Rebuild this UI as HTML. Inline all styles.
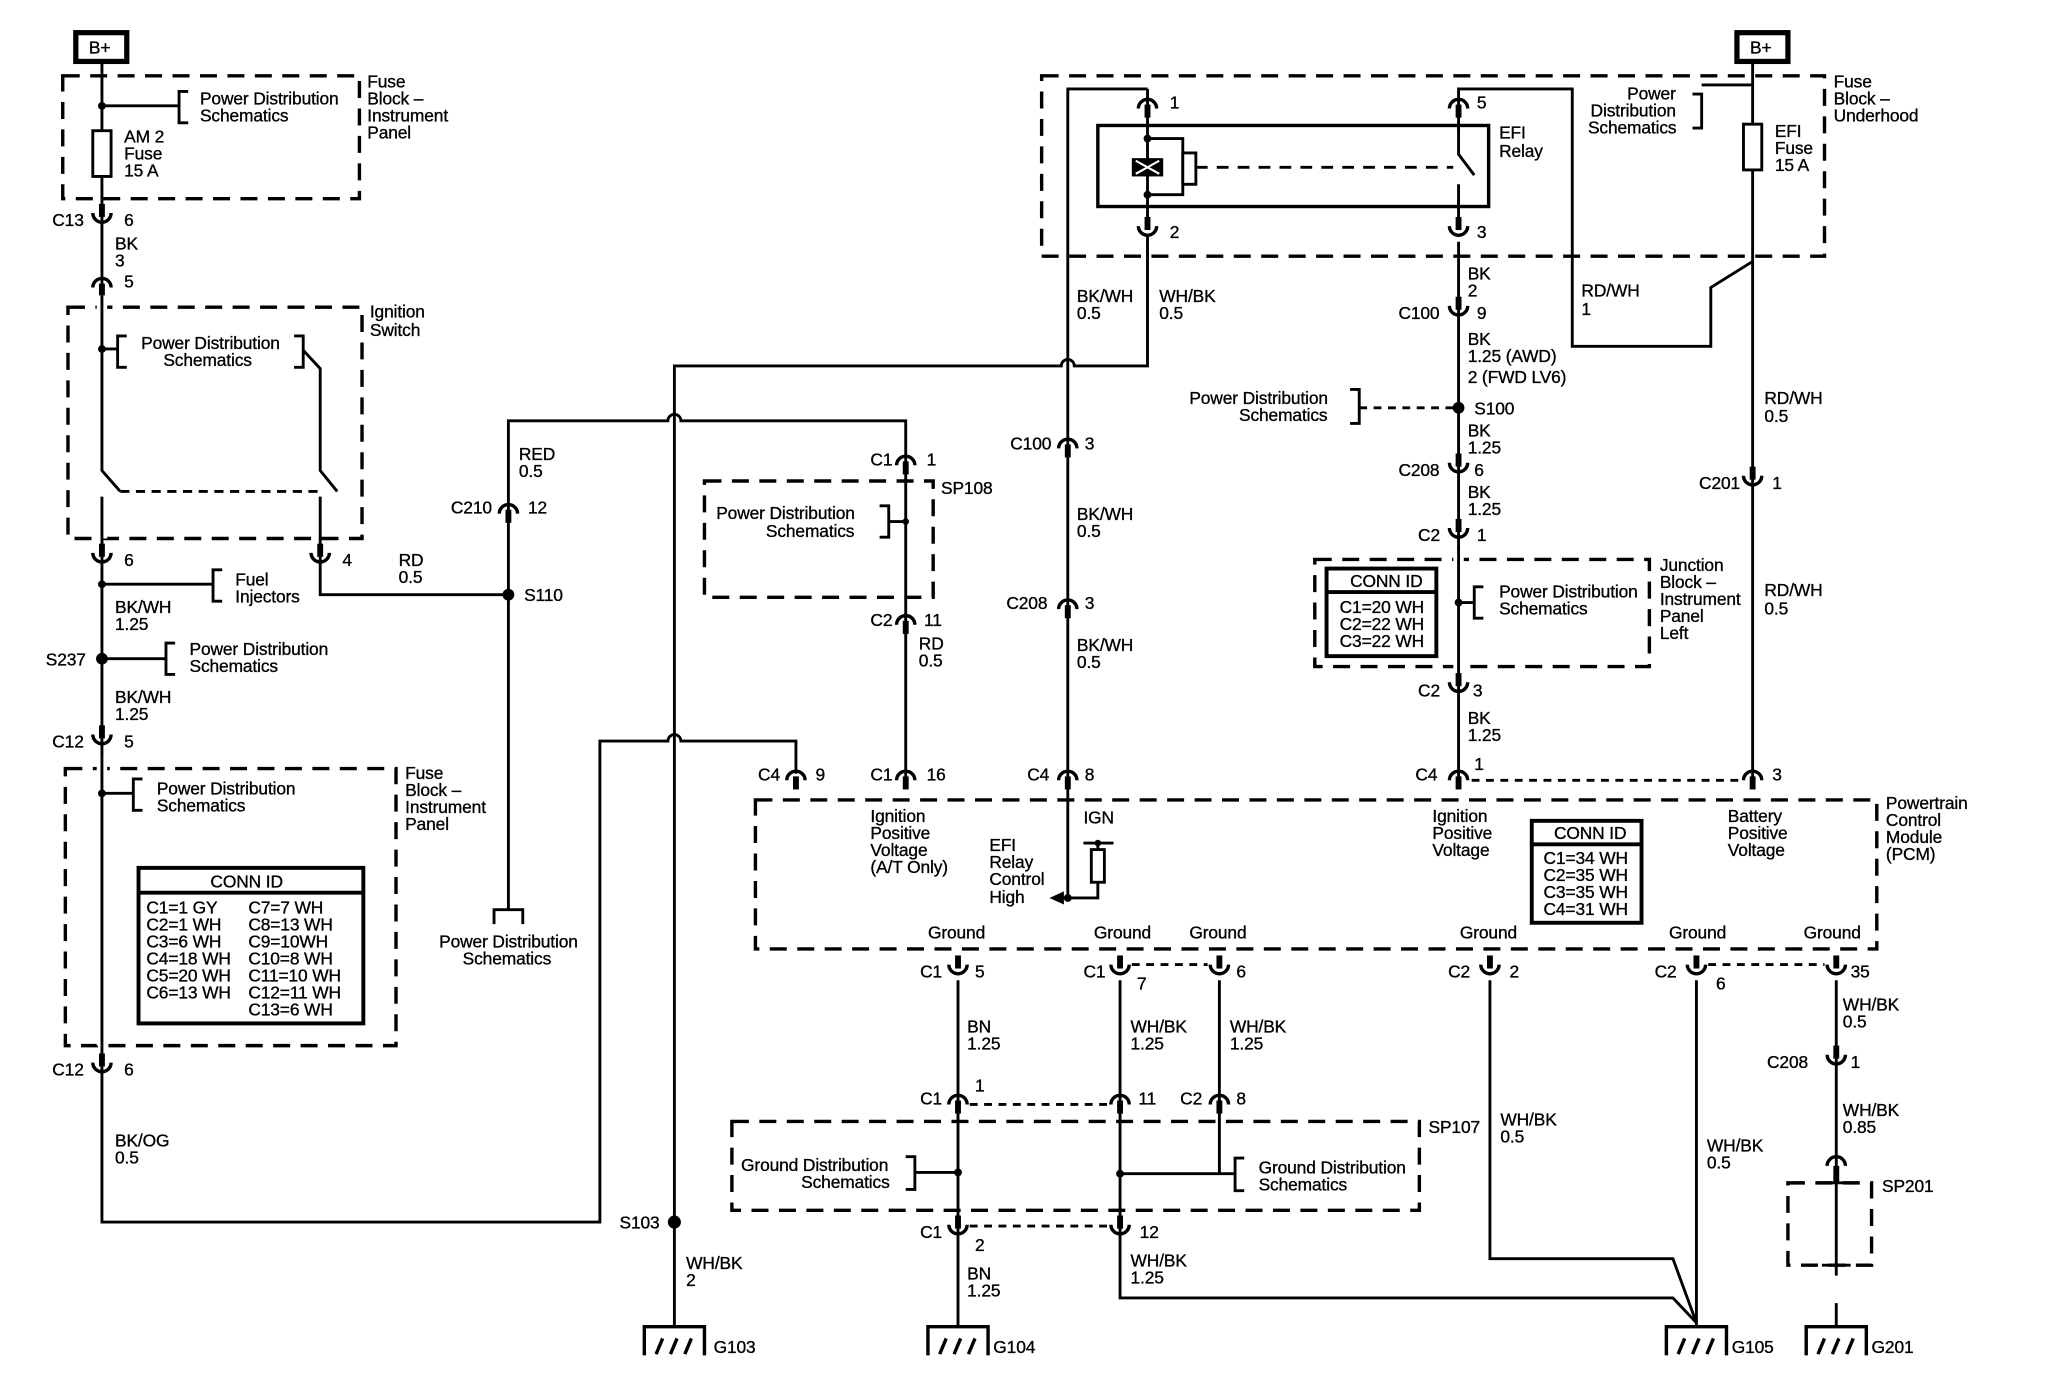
<!DOCTYPE html>
<html><head><meta charset="utf-8"><style>
html,body{margin:0;padding:0;background:#fff}
svg{display:block}
text{font-family:"Liberation Sans",Arial,sans-serif;font-size:13.3px;fill:#000;stroke:#000;stroke-width:0.25px;letter-spacing:-0.1px}
.w{stroke:#000;stroke-width:2.2;fill:none}
.d{stroke:#000;stroke-width:2.6;fill:none;stroke-dasharray:13 8}
.dt{stroke:#000;stroke-width:2.2;fill:none;stroke-dasharray:6 5}
.b{stroke:#000;stroke-width:2.2;fill:none}
</style></head><body>
<svg width="2048" height="1392" viewBox="0 0 1567 1065" preserveAspectRatio="none" xmlns="http://www.w3.org/2000/svg">
<defs>
<g id="cd"><line x1="0" y1="-12" x2="0" y2="-2" stroke="#000" stroke-width="4.5"/><path d="M-7,-5 A7,7 0 0 0 7,-5" fill="none" stroke="#000" stroke-width="2.6"/></g>
<g id="cu"><line x1="0" y1="2" x2="0" y2="12" stroke="#000" stroke-width="4.5"/><path d="M-7,5 A7,7 0 0 1 7,5" fill="none" stroke="#000" stroke-width="2.6"/></g>
<g id="gnd"><path d="M-23,22 V0 H23 V22" fill="none" stroke="#000" stroke-width="2.6"/><path d="M-14,21 L-9,9 M-3,21 L2,9 M8,21 L13,9" stroke="#000" stroke-width="2.6"/></g>
</defs>

<!-- LEFT COLUMN -->
<rect x="58" y="25" width="39" height="22" fill="none" stroke="#000" stroke-width="4"/>
<text x="68" y="41">B+</text>
<rect x="48" y="58" width="227" height="94" class="d"/>
<text x="281" y="67">Fuse</text><text x="281" y="80">Block –</text><text x="281" y="93">Instrument</text><text x="281" y="106">Panel</text>
<path class="w" d="M78,47 V935 H459 V567 H511 A5,5 0 0 1 521,567 H609 V592"/>
<circle cx="78" cy="81" r="3"/>
<path class="w" d="M78,81 H137 M144,70 H137 V94 H144"/>
<text x="153" y="80">Power Distribution</text><text x="153" y="93">Schematics</text>
<rect x="71" y="100" width="14" height="35" fill="#fff" stroke="#000" stroke-width="2.2"/>
<text x="95" y="109">AM 2</text><text x="95" y="122">Fuse</text><text x="95" y="135">15 A</text>
<use href="#cd" x="78" y="168"/><text x="40" y="173">C13</text><text x="95" y="173">6</text>
<text x="88" y="191">BK</text><text x="88" y="204">3</text>
<use href="#cu" x="78" y="215"/><text x="95" y="220">5</text>
<rect x="52" y="235" width="225" height="177" class="d"/>
<text x="283" y="243">Ignition</text><text x="283" y="257">Switch</text>
<rect x="74" y="226" width="8" height="186" fill="#fff"/>
<path class="w" d="M78,226 V360 L92,376"/>
<path class="dt" d="M92,376 H245" style="stroke-dasharray:7 5"/>
<circle cx="78" cy="267" r="3"/>
<path class="w" d="M78,267 H90 M97,257 H90 V281 H97"/>
<text x="108" y="267">Power Distribution</text><text x="125" y="280">Schematics</text>
<path class="w" d="M225,257 H232 V281 H225 M232,268 L245,282 V360 L258,376"/>
<path class="w" d="M78,380 V430 M245,380 V455 H389"/>
<use href="#cd" x="78" y="428"/><text x="95" y="433">6</text>
<use href="#cd" x="245" y="428"/><text x="262" y="433">4</text>
<text x="305" y="433">RD</text><text x="305" y="446">0.5</text>
<circle cx="78" cy="447" r="3"/>
<path class="w" d="M78,447 H163 M170,436 H163 V460 H170"/>
<text x="180" y="448">Fuel</text><text x="180" y="461">Injectors</text>
<text x="88" y="469">BK/WH</text><text x="88" y="482">1.25</text>
<circle cx="78" cy="504" r="4.5"/><text x="35" y="509">S237</text>
<path class="w" d="M78,504 H127 M134,492 H127 V516 H134"/>
<text x="145" y="501">Power Distribution</text><text x="145" y="514">Schematics</text>
<text x="88" y="538">BK/WH</text><text x="88" y="551">1.25</text>
<use href="#cd" x="78" y="567"/><text x="40" y="572">C12</text><text x="95" y="572">5</text>
<rect x="50" y="588" width="253" height="212" class="d"/>
<text x="310" y="596">Fuse</text><text x="310" y="609">Block –</text><text x="310" y="622">Instrument</text><text x="310" y="635">Panel</text>
<rect x="74" y="580" width="8" height="220" fill="#fff"/>
<line x1="78" y1="580" x2="78" y2="800" class="w"/>
<circle cx="78" cy="607" r="3"/>
<path class="w" d="M78,607 H102 M109,596 H102 V620 H109"/>
<text x="120" y="608">Power Distribution</text><text x="120" y="621">Schematics</text>
<rect x="106" y="664" width="172" height="119" fill="none" stroke="#000" stroke-width="3"/>
<line x1="106" y1="683" x2="278" y2="683" stroke="#000" stroke-width="3"/>
<text x="161" y="679">CONN ID</text>
<text x="112" y="699">C1=1 GY</text><text x="112" y="712">C2=1 WH</text><text x="112" y="725">C3=6 WH</text><text x="112" y="738">C4=18 WH</text><text x="112" y="751">C5=20 WH</text><text x="112" y="764">C6=13 WH</text>
<text x="190" y="699">C7=7 WH</text><text x="190" y="712">C8=13 WH</text><text x="190" y="725">C9=10WH</text><text x="190" y="738">C10=8 WH</text><text x="190" y="751">C11=10 WH</text><text x="190" y="764">C12=11 WH</text><text x="190" y="777">C13=6 WH</text>
<use href="#cd" x="78" y="818"/><text x="40" y="823">C12</text><text x="95" y="823">6</text>
<text x="88" y="877">BK/OG</text><text x="88" y="890">0.5</text>

<!-- S103 vertical & top -->
<path class="w" d="M516,1015 V280 H812 A5,5 0 0 1 822,280 H878 V180"/>
<circle cx="516" cy="935" r="5"/><text x="474" y="940">S103</text>
<text x="525" y="971">WH/BK</text><text x="525" y="984">2</text>
<use href="#gnd" x="516" y="1015"/><text x="546" y="1035">G103</text>

<!-- S110 -->
<path class="w" d="M389,696 V322 H511 A5,5 0 0 1 521,322 H693 V600"/>
<use href="#cu" x="389" y="388"/><text x="345" y="393">C210</text><text x="404" y="393">12</text>
<text x="397" y="352">RED</text><text x="397" y="365">0.5</text>
<circle cx="389" cy="455" r="4.5"/><text x="401" y="460">S110</text>
<path class="w" d="M378,707 V696 H400 V707"/>
<text x="336" y="725">Power Distribution</text><text x="354" y="738">Schematics</text>

<!-- SP108 -->
<use href="#cu" x="693" y="351"/><text x="666" y="356">C1</text><text x="709" y="356">1</text>
<rect x="539" y="368" width="175" height="89" class="d"/>
<text x="720" y="378">SP108</text>
<path class="w" d="M673,387 H680 V411 H673 M680,399 H693"/><circle cx="693" cy="399" r="2.5"/>
<text x="548" y="397">Power Distribution</text><text x="586" y="411">Schematics</text>
<use href="#cu" x="693" y="473"/><text x="666" y="479">C2</text><text x="707" y="479">11</text>
<text x="703" y="497">RD</text><text x="703" y="510">0.5</text>
<use href="#cu" x="693" y="592"/><text x="666" y="597">C1</text><text x="709" y="597">16</text>
<use href="#cu" x="609" y="592"/><text x="580" y="597">C4</text><text x="624" y="597">9</text>

<!-- TOP RIGHT -->
<rect x="1329" y="25" width="39" height="22" fill="none" stroke="#000" stroke-width="4"/>
<text x="1339" y="41">B+</text>
<rect x="797" y="58" width="599" height="138" class="d"/>
<text x="1403" y="67">Fuse</text><text x="1403" y="80">Block –</text><text x="1403" y="93">Underhood</text>
<path class="w" d="M1341,47 V600"/>
<path class="w" d="M1341,65 H1302 M1295,72 H1302 V98 H1295"/>
<text x="1245" y="76">Power</text><text x="1217" y="89">Distribution</text><text x="1215" y="102">Schematics</text>
<rect x="1334" y="95" width="14" height="35" fill="#fff" stroke="#000" stroke-width="2.2"/>
<text x="1358" y="105">EFI</text><text x="1358" y="118">Fuse</text><text x="1358" y="131">15 A</text>
<path class="w" d="M1341,200 L1309,220 V265 H1203 V68 H1116 V168"/>
<text x="1210" y="227">RD/WH</text><text x="1210" y="241">1</text>
<!-- relay -->
<rect x="840" y="96" width="299" height="62" fill="none" stroke="#000" stroke-width="2.6"/>
<path class="w" d="M878,68 H817 V600"/>
<line x1="878" y1="68" x2="878" y2="168" class="w"/>
<use href="#cu" x="878" y="78"/><text x="895" y="83">1</text>
<use href="#cd" x="878" y="178"/><text x="895" y="182">2</text>
<use href="#cu" x="1116" y="78"/><text x="1130" y="83">5</text>
<use href="#cd" x="1116" y="178"/><text x="1130" y="182">3</text>
<circle cx="878" cy="106" r="3"/><circle cx="878" cy="149" r="3"/>
<path class="w" d="M878,106 H905 V149 H878"/>
<rect x="866" y="121" width="24" height="14" fill="#000"/>
<path d="M869,123 L887,133 M887,123 L869,133" stroke="#fff" stroke-width="1.6"/>
<rect x="905" y="117" width="10" height="24" fill="#fff" stroke="#000" stroke-width="2.2"/>
<path class="dt" d="M915,128 H1112" style="stroke-dasharray:9 7"/>
<rect x="1112" y="100" width="8" height="54" fill="#fff"/>
<path class="w" d="M1116,96 V118 L1128,134 M1116,141 V160"/>
<text x="1147" y="106">EFI</text><text x="1147" y="120">Relay</text>
<text x="824" y="231">BK/WH</text><text x="824" y="244">0.5</text>
<text x="887" y="231">WH/BK</text><text x="887" y="244">0.5</text>
<use href="#cu" x="817" y="338"/><text x="773" y="344">C100</text><text x="830" y="344">3</text>
<text x="824" y="398">BK/WH</text><text x="824" y="411">0.5</text>
<use href="#cu" x="817" y="461"/><text x="770" y="466">C208</text><text x="830" y="466">3</text>
<text x="824" y="498">BK/WH</text><text x="824" y="511">0.5</text>
<use href="#cu" x="817" y="592"/><text x="786" y="597">C4</text><text x="830" y="597">8</text>

<!-- BK column 1116 -->
<line x1="1116" y1="185" x2="1116" y2="600" class="w"/>
<text x="1123" y="214">BK</text><text x="1123" y="227">2</text>
<use href="#cd" x="1116" y="239"/><text x="1070" y="244">C100</text><text x="1130" y="244">9</text>
<text x="1123" y="264">BK</text><text x="1123" y="277">1.25 (AWD)</text><text x="1123" y="293">2 (FWD LV6)</text>
<circle cx="1116" cy="312" r="4.5"/><text x="1128" y="317">S100</text>
<path class="dt" d="M1112,312 H1040"/><path class="w" d="M1033,298 H1040 V324 H1033"/>
<text x="910" y="309">Power Distribution</text><text x="948" y="322">Schematics</text>
<text x="1123" y="334">BK</text><text x="1123" y="347">1.25</text>
<use href="#cd" x="1116" y="359"/><text x="1070" y="364">C208</text><text x="1128" y="364">6</text>
<text x="1123" y="381">BK</text><text x="1123" y="394">1.25</text>
<use href="#cd" x="1116" y="409"/><text x="1085" y="414">C2</text><text x="1130" y="414">1</text>
<rect x="1006" y="428" width="256" height="82" class="d"/>
<rect x="1112" y="420" width="8" height="96" fill="#fff"/><line x1="1116" y1="418" x2="1116" y2="520" class="w"/>
<rect x="1015" y="435" width="84" height="67" fill="none" stroke="#000" stroke-width="3"/>
<line x1="1015" y1="453" x2="1099" y2="453" stroke="#000" stroke-width="3"/>
<text x="1033" y="449">CONN ID</text>
<text x="1025" y="469">C1=20 WH</text><text x="1025" y="482">C2=22 WH</text><text x="1025" y="495">C3=22 WH</text>
<circle cx="1116" cy="461" r="3"/>
<path class="w" d="M1116,461 H1128 M1135,449 H1128 V473 H1135"/>
<text x="1147" y="457">Power Distribution</text><text x="1147" y="470">Schematics</text>
<text x="1270" y="437">Junction</text><text x="1270" y="450">Block –</text><text x="1270" y="463">Instrument</text><text x="1270" y="476">Panel</text><text x="1270" y="489">Left</text>
<use href="#cd" x="1116" y="527"/><text x="1085" y="533">C2</text><text x="1127" y="533">3</text>
<text x="1123" y="554">BK</text><text x="1123" y="567">1.25</text>
<use href="#cu" x="1116" y="592"/><text x="1083" y="597">C4</text><text x="1128" y="589">1</text>
<path class="dt" d="M1126,597 H1333"/>
<text x="1350" y="309">RD/WH</text><text x="1350" y="323">0.5</text>
<use href="#cd" x="1341" y="369"/><text x="1300" y="374">C201</text><text x="1356" y="374">1</text>
<text x="1350" y="456">RD/WH</text><text x="1350" y="470">0.5</text>
<use href="#cu" x="1341" y="592"/><text x="1356" y="597">3</text>

<!-- PCM -->
<rect x="578" y="612" width="858" height="114" class="d"/>
<text x="1443" y="619">Powertrain</text><text x="1443" y="632">Control</text><text x="1443" y="645">Module</text><text x="1443" y="658">(PCM)</text>
<text x="666" y="629">Ignition</text><text x="666" y="642">Positive</text><text x="666" y="655">Voltage</text><text x="666" y="668">(A/T Only)</text>
<text x="757" y="651">EFI</text><text x="757" y="664">Relay</text><text x="757" y="677">Control</text><text x="757" y="691">High</text>
<text x="829" y="630">IGN</text>
<path class="w" d="M817,600 V687 M829,645 H852 M840,645 V650 M840,675 V687 H810"/>
<circle cx="840" cy="645" r="2.5"/><circle cx="817" cy="687" r="3"/>
<rect x="835" y="650" width="10" height="25" fill="#fff" stroke="#000" stroke-width="2.2"/>
<path d="M803,687 L814,682 L814,692 Z" fill="#000"/>
<text x="1096" y="629">Ignition</text><text x="1096" y="642">Positive</text><text x="1096" y="655">Voltage</text>
<text x="1322" y="629">Battery</text><text x="1322" y="642">Positive</text><text x="1322" y="655">Voltage</text>
<rect x="1172" y="628" width="84" height="78" fill="none" stroke="#000" stroke-width="3"/>
<line x1="1172" y1="646" x2="1256" y2="646" stroke="#000" stroke-width="3"/>
<text x="1189" y="642">CONN ID</text>
<text x="1181" y="661">C1=34 WH</text><text x="1181" y="674">C2=35 WH</text><text x="1181" y="687">C3=35 WH</text><text x="1181" y="700">C4=31 WH</text>
<text x="710" y="718">Ground</text><text x="837" y="718">Ground</text><text x="910" y="718">Ground</text>
<text x="1117" y="718">Ground</text><text x="1277" y="718">Ground</text><text x="1380" y="718">Ground</text>

<!-- bottom grounds -->
<use href="#cd" x="733" y="743"/><text x="704" y="748">C1</text><text x="746" y="748">5</text>
<use href="#cd" x="857" y="743"/><text x="829" y="748">C1</text><text x="870" y="757">7</text>
<use href="#cd" x="933" y="743"/><text x="946" y="748">6</text>
<path class="dt" d="M866,738 H924"/>
<use href="#cd" x="1140" y="743"/><text x="1108" y="748">C2</text><text x="1155" y="748">2</text>
<use href="#cd" x="1298" y="743"/><text x="1266" y="748">C2</text><text x="1313" y="757">6</text>
<use href="#cd" x="1405" y="743"/><text x="1416" y="748">35</text>
<path class="dt" d="M1307,738 H1396"/>
<path class="w" d="M733,750 V1015 M857,750 V993 H1280 L1298,1012 M933,750 V898 M1140,750 V963 H1280 L1298,1012 M1298,750 V1015 M1405,750 V976 M1405,997 V1015"/>
<text x="740" y="790">BN</text><text x="740" y="803">1.25</text>
<text x="865" y="790">WH/BK</text><text x="865" y="803">1.25</text>
<text x="941" y="790">WH/BK</text><text x="941" y="803">1.25</text>
<use href="#cu" x="733" y="840"/><text x="704" y="845">C1</text><text x="746" y="835">1</text>
<use href="#cu" x="857" y="840"/><text x="871" y="845">11</text>
<use href="#cu" x="933" y="840"/><text x="903" y="845">C2</text><text x="946" y="845">8</text>
<path class="dt" d="M742,845 H848"/>
<rect x="560" y="858" width="526" height="68" class="d"/>
<text x="1093" y="867">SP107</text>
<circle cx="733" cy="897" r="3"/>
<path class="w" d="M733,897 H700 M693,885 H700 V910 H693"/>
<text x="567" y="896">Ground Distribution</text><text x="613" y="909">Schematics</text>
<circle cx="857" cy="898" r="3"/>
<path class="w" d="M857,898 H945 M952,886 H945 V911 H952"/>
<text x="963" y="898">Ground Distribution</text><text x="963" y="911">Schematics</text>
<use href="#cd" x="733" y="942"/><text x="704" y="947">C1</text><text x="746" y="957">2</text>
<use href="#cd" x="857" y="942"/><text x="872" y="947">12</text>
<path class="dt" d="M742,938 H848"/>
<text x="740" y="979">BN</text><text x="740" y="992">1.25</text>
<text x="865" y="969">WH/BK</text><text x="865" y="982">1.25</text>
<use href="#gnd" x="733" y="1015"/><text x="760" y="1035">G104</text>
<text x="1148" y="861">WH/BK</text><text x="1148" y="874">0.5</text>
<text x="1306" y="881">WH/BK</text><text x="1306" y="894">0.5</text>
<use href="#gnd" x="1298" y="1015"/><text x="1325" y="1035">G105</text>
<text x="1410" y="773">WH/BK</text><text x="1410" y="786">0.5</text>
<use href="#cd" x="1405" y="812"/><text x="1352" y="817">C208</text><text x="1416" y="817">1</text>
<text x="1410" y="854">WH/BK</text><text x="1410" y="867">0.85</text>
<path d="M1398,892 A7,7 0 0 1 1412,892" fill="none" stroke="#000" stroke-width="2.6"/>
<line x1="1405" y1="892" x2="1405" y2="905" stroke="#000" stroke-width="4.5"/>
<rect x="1368" y="905" width="64" height="63" class="d"/>
<path class="w" d="M1394,905 H1416 M1394,968 H1416"/>
<text x="1440" y="912">SP201</text>
<use href="#gnd" x="1405" y="1015"/><text x="1432" y="1035">G201</text>
</svg>
</body></html>
